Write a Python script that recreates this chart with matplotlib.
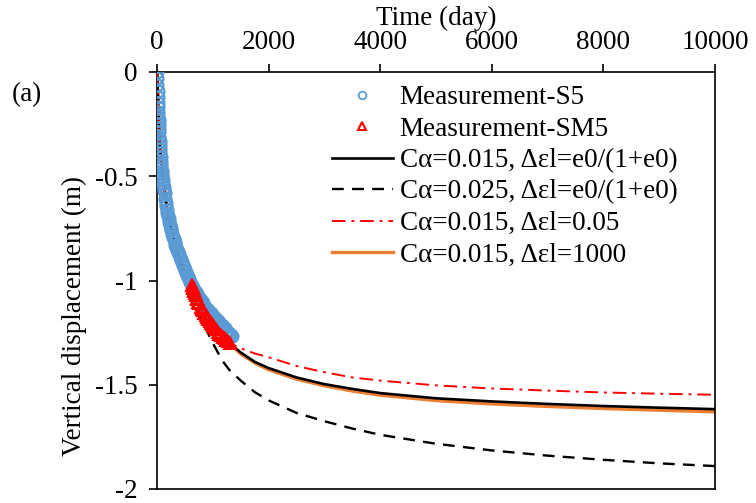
import matplotlib
matplotlib.use("Agg")
import matplotlib.pyplot as plt
from matplotlib.lines import Line2D

plt.rcParams['font.family'] = ['Liberation Serif', 'DejaVu Serif']
plt.rcParams['axes.unicode_minus'] = False
plt.rcParams['mathtext.fontset'] = 'stix'

# ---------------- data ----------------
t_S5 = [0, 3, 6, 9, 12, 15, 18, 21, 24, 27, 30, 34, 38, 42, 46, 50, 55, 60, 65, 70,
        75, 80, 86, 92, 98, 105, 112, 120, 128, 136, 145, 155, 165, 175, 185, 196,
        208, 220, 232, 245, 258, 272, 286, 300, 315, 330, 345, 360, 376, 392, 408,
        425, 442, 460, 478, 496, 515, 534, 553, 572, 592, 612, 632, 652, 672, 693,
        714, 735, 757, 779, 801, 823, 846, 869, 892, 915, 939, 963, 987, 1011, 1036,
        1061, 1086, 1111, 1136, 1161, 1186, 1211, 1236, 1261, 1286, 1311, 1336]
v_S5 = [0.0, -0.03, -0.06, -0.09, -0.12, -0.15, -0.17, -0.19, -0.21, -0.23, -0.25,
        -0.27, -0.29, -0.31, -0.33, -0.35, -0.37, -0.39, -0.41, -0.43, -0.445, -0.46,
        -0.475, -0.49, -0.505, -0.52, -0.535, -0.55, -0.565, -0.58, -0.61, -0.63,
        -0.645, -0.66, -0.675, -0.69, -0.705, -0.72, -0.735, -0.75, -0.76, -0.775,
        -0.79, -0.80, -0.815, -0.83, -0.84, -0.852, -0.862, -0.875, -0.888, -0.90,
        -0.912, -0.925, -0.937, -0.948, -0.96, -0.972, -0.983, -0.994, -1.005, -1.015,
        -1.025, -1.035, -1.045, -1.055, -1.065, -1.075, -1.085, -1.09, -1.10, -1.11,
        -1.12, -1.125, -1.135, -1.14, -1.15, -1.155, -1.165, -1.17, -1.18, -1.185,
        -1.195, -1.20, -1.21, -1.215, -1.225, -1.23, -1.24, -1.245, -1.25, -1.26, -1.265]

t_SM5 = [630, 640, 650, 660, 670, 680, 695, 710, 725, 740, 760, 780, 800, 820, 845,
         870, 895, 920, 945, 970, 1000, 1030, 1060, 1090, 1120, 1150, 1180, 1210,
         1240, 1270, 1300]
v_SM5 = [-1.02, -1.03, -1.035, -1.045, -1.05, -1.06, -1.07, -1.085, -1.09, -1.105,
         -1.11, -1.125, -1.135, -1.14, -1.155, -1.165, -1.175, -1.185, -1.195, -1.205,
         -1.215, -1.225, -1.235, -1.245, -1.255, -1.262, -1.27, -1.278, -1.285,
         -1.292, -1.30]

t_model = [0, 50, 100, 200, 300, 400, 500, 600, 700, 800, 900, 1000, 1100, 1200,
           1300, 1500, 1750, 2000, 2500, 3000, 3500, 4000, 5000, 6000, 7000, 8000,
           9000, 10000]
v_ca015_e0 = [0.0, -0.35, -0.50, -0.70, -0.80, -0.89, -0.97, -1.03, -1.08, -1.125,
              -1.17, -1.21, -1.245, -1.275, -1.30, -1.345, -1.39, -1.42, -1.465,
              -1.497, -1.52, -1.54, -1.565, -1.58, -1.592, -1.602, -1.61, -1.617]
v_ca025_e0 = [0.0, -0.35, -0.50, -0.70, -0.80, -0.90, -0.99, -1.06, -1.13, -1.19,
              -1.245, -1.30, -1.35, -1.395, -1.43, -1.48, -1.535, -1.575, -1.635,
              -1.675, -1.71, -1.74, -1.783, -1.815, -1.84, -1.86, -1.877, -1.89]
v_ca015_005 = [0.0, -0.35, -0.50, -0.70, -0.80, -0.89, -0.97, -1.03, -1.08, -1.125,
               -1.17, -1.21, -1.245, -1.275, -1.30, -1.325, -1.35, -1.368, -1.41,
               -1.44, -1.465, -1.48, -1.503, -1.518, -1.528, -1.537, -1.543, -1.548]
v_ca015_1000 = [0.0, -0.35, -0.50, -0.70, -0.80, -0.89, -0.97, -1.03, -1.08, -1.125,
                -1.17, -1.212, -1.248, -1.279, -1.305, -1.352, -1.395, -1.428, -1.473,
                -1.505, -1.53, -1.55, -1.576, -1.592, -1.604, -1.614, -1.622, -1.63]

x_ticks = [0, 2000, 4000, 6000, 8000, 10000]
y_ticks = [0, -0.5, -1, -1.5, -2]
y_ticklabels = ['0', '-0.5', '-1', '-1.5', '-2']

labels = ['Measurement-S5', 'Measurement-SM5',
          'C\u03b1=0.015, \u0394\u03b5l=e0/(1+e0)',
          'C\u03b1=0.025, \u0394\u03b5l=e0/(1+e0)',
          'C\u03b1=0.015, \u0394\u03b5l=0.05',
          'C\u03b1=0.015, \u0394\u03b5l=1000']

# ---------------- figure ----------------
FS = 19.5
fig = plt.figure(figsize=(7.56, 5.03), dpi=100)
ax = fig.add_axes([157 / 756, 1 - 489 / 503, 558 / 756, 417 / 503])

BLUE = '#5B9BD5'
ORANGE = '#ED7D31'
RED = '#FF0000'

l_or, = ax.plot(t_model, v_ca015_1000, color=ORANGE, lw=2.4, zorder=2)
l_bk, = ax.plot(t_model, v_ca015_e0, color='black', lw=1.9, zorder=3)
l_da, = ax.plot(t_model, v_ca025_e0, color='black', lw=1.7, ls=(0, (5, 3.5)), zorder=3)
l_rd, = ax.plot(t_model, v_ca015_005, color=RED, lw=1.4, ls=(0, (7, 3, 1.5, 3)), zorder=4)
m_s5, = ax.plot(t_S5, v_S5, ls='none', marker='o', ms=8.5, mfc='none', mec=BLUE,
                mew=1.7, zorder=5)
m_sm5, = ax.plot(t_SM5, v_SM5, ls='none', marker='^', ms=8, mfc='none', mec=RED,
                 mew=1.4, zorder=6)

ax.set_xlim(0, 10000)
ax.set_ylim(-2, 0)
ax.xaxis.tick_top()
ax.set_xticks(x_ticks)
ax.set_xticklabels([str(v) for v in x_ticks])
ax.set_yticks(y_ticks)
ax.set_yticklabels(y_ticklabels)
ax.tick_params(axis='x', which='both', top=True, bottom=False, direction='out',
               length=6, width=1.2, pad=6, labelsize=FS)
ax.tick_params(axis='y', which='both', left=True, right=False, direction='out',
               length=6, width=1.2, pad=8, labelsize=FS)
for s in ax.spines.values():
    s.set_linewidth(1.2)

ax.set_ylabel('Vertical displacement (m)', fontsize=FS)
ax.yaxis.set_label_coords(-0.125, 0.415)

fig.text(436 / 756, 1 - 18 / 503, 'Time (day)', fontsize=FS, ha='center', va='center')
fig.text(12 / 756, 1 - 95 / 503, '(a)', fontsize=FS, ha='left', va='center')

h_s5 = Line2D([], [], ls='none', marker='o', ms=5.5, mfc='none', mec=BLUE, mew=1.3)
h_sm5 = Line2D([], [], ls='none', marker='^', ms=5.5, mfc='none', mec=RED, mew=1.5)
leg = fig.legend([h_s5, h_sm5, l_bk, l_da, l_rd, l_or], labels,
                 loc='upper left', bbox_to_anchor=(332 / 756, 1 - 85 / 503),
                 frameon=False, fontsize=FS, handlelength=2.25, handletextpad=0.25,
                 labelspacing=0.24, borderpad=0, borderaxespad=0)

fig.savefig('out.png', dpi=100)
